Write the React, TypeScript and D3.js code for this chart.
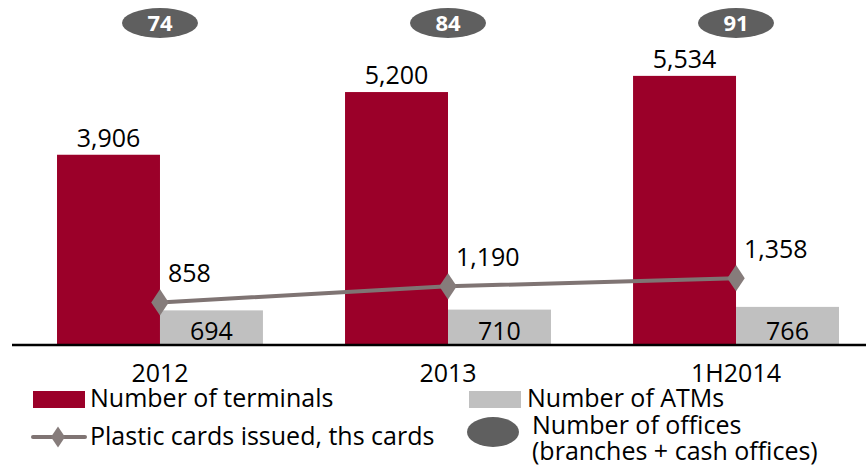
import React, { useEffect, useRef } from 'react';
import * as d3 from 'd3';

const categories = ['2012', '2013', '1H2014'];
const terminals = [3906, 5200, 5534];
const atms = [694, 710, 766];
const cards = [858, 1190, 1358];
const offices = [74, 84, 91];

const RED = '#9b0029';
const GREY_BAR = '#c0c0c0';
const LINE = '#7f7473';
const OVAL = '#5f5f5f';
const FONT = '"Open Sans", sans-serif';

const fmt = d3.format(',');

const drawChart = (ref) => {
	const svg = d3.select(ref.current);
	svg.selectAll('*').remove();
	const base = 344;

	const x = d3.scaleBand().domain(categories)
		.range([16, 880])
		.paddingInner(0.285)
		.paddingOuter(0.1424);
	const x1 = d3.scaleBand().domain(['terminals', 'atms'])
		.range([0, x.bandwidth()]);
	const y = d3.scaleLinear().domain([0, 7100])
		.range([base, 0]);
	const mid = (c) => x(c) + x.bandwidth() / 2;

	const rows = categories.map((c, i) => ({
		c, t: terminals[i], a: atms[i], p: cards[i], o: offices[i]
	}));

	const g = svg.append('g').style('font-family', FONT);

	// red bars
	g.selectAll('.t').data(rows)
		.enter()
		.append('rect')
		.attr('x', (d) => x(d.c) + x1('terminals'))
		.attr('y', (d) => y(d.t))
		.attr('width', x1.bandwidth())
		.attr('height', (d) => base - y(d.t))
		.attr('fill', RED);

	g.selectAll('.tl').data(rows)
		.enter()
		.append('text')
		.attr('x', (d) => x(d.c) + x1('terminals') + x1.bandwidth() / 2)
		.attr('y', (d) => y(d.t) - 8)
		.attr('text-anchor', 'middle')
		.attr('font-size', 25)
		.text((d) => fmt(d.t));

	// grey bars
	g.selectAll('.a').data(rows)
		.enter()
		.append('rect')
		.attr('x', (d) => x(d.c) + x1('atms'))
		.attr('y', (d) => y(d.a))
		.attr('width', x1.bandwidth())
		.attr('height', (d) => base - y(d.a))
		.attr('fill', GREY_BAR);

	g.selectAll('.al').data(rows)
		.enter()
		.append('text')
		.attr('x', (d) => x(d.c) + x1('atms') + x1.bandwidth() / 2)
		.attr('y', base - 4)
		.attr('text-anchor', 'middle')
		.attr('font-size', 25)
		.text((d) => fmt(d.a));

	// axis line
	g.append('line')
		.attr('x1', 12)
		.attr('x2', 866)
		.attr('y1', base + 1)
		.attr('y2', base + 1)
		.attr('stroke', '#000')
		.attr('stroke-width', 2.5);

	g.selectAll('.cat').data(categories)
		.enter()
		.append('text')
		.attr('x', (d) => mid(d))
		.attr('y', 382)
		.attr('text-anchor', 'middle')
		.attr('font-size', 25)
		.text((d) => d);

	// cards line
	const line = d3.line().x((d) => mid(d.c))
		.y((d) => y(d.p));
	g.append('path').datum(rows)
		.attr('d', line)
		.attr('fill', 'none')
		.attr('stroke', LINE)
		.attr('stroke-width', 4);

	const diamond = d3.symbol().type(d3.symbolDiamond)
		.size(200);
	g.selectAll('.pm').data(rows)
		.enter()
		.append('path')
		.attr('d', diamond)
		.attr('transform', (d) => `translate(${ mid(d.c) },${ y(d.p) }) scale(1.15,1)`)
		.attr('fill', '#867c7b');

	g.selectAll('.pl').data(rows)
		.enter()
		.append('text')
		.attr('x', (d) => mid(d.c) + 8)
		.attr('y', (d) => y(d.p) - 20)
		.attr('font-size', 25)
		.text((d) => fmt(d.p));

	// office ovals
	g.selectAll('.o').data(rows)
		.enter()
		.append('ellipse')
		.attr('cx', (d) => mid(d.c))
		.attr('cy', 23)
		.attr('rx', 38)
		.attr('ry', 15)
		.attr('fill', OVAL);

	g.selectAll('.ol').data(rows)
		.enter()
		.append('text')
		.attr('x', (d) => mid(d.c))
		.attr('y', 31)
		.attr('text-anchor', 'middle')
		.attr('font-size', 22)
		.attr('font-weight', 'bold')
		.attr('fill', '#fff')
		.text((d) => d.o);

	// legend
	const lg = g.append('g').attr('font-size', 25);
	lg.append('rect').attr('x', 33)
		.attr('y', 391)
		.attr('width', 52)
		.attr('height', 17)
		.attr('fill', RED);
	lg.append('text').attr('x', 90)
		.attr('y', 407)
		.text('Number of terminals');

	lg.append('line').attr('x1', 33)
		.attr('x2', 85)
		.attr('y1', 437)
		.attr('y2', 437)
		.attr('stroke', LINE)
		.attr('stroke-width', 4)
		.attr('stroke-linecap', 'round');
	lg.append('path').attr('d', d3.symbol().type(d3.symbolDiamond)
		.size(130))
		.attr('transform', 'translate(58,437) scale(1.15,1)')
		.attr('fill', '#867c7b');
	lg.append('text').attr('x', 90)
		.attr('y', 445)
		.text('Plastic cards issued, ths cards');

	lg.append('rect').attr('x', 469)
		.attr('y', 391)
		.attr('width', 52)
		.attr('height', 17)
		.attr('fill', GREY_BAR);
	lg.append('text').attr('x', 527)
		.attr('y', 407)
		.text('Number of ATMs');

	lg.append('ellipse').attr('cx', 493)
		.attr('cy', 432)
		.attr('rx', 26)
		.attr('ry', 15)
		.attr('fill', OVAL);
	lg.append('text').attr('x', 532)
		.attr('y', 434)
		.text('Number of offices');
	lg.append('text').attr('x', 532)
		.attr('y', 460)
		.text('(branches + cash offices)');
};

const App = () => {
	const ref = useRef();

	useEffect(() => drawChart(ref), []);

	return (
		<svg ref={ ref } width={ 866 } height={ 470 }
			style={ { position: 'absolute', left: 0, top: 0, background: '#fff' } }/>
	);
};

export default App;
